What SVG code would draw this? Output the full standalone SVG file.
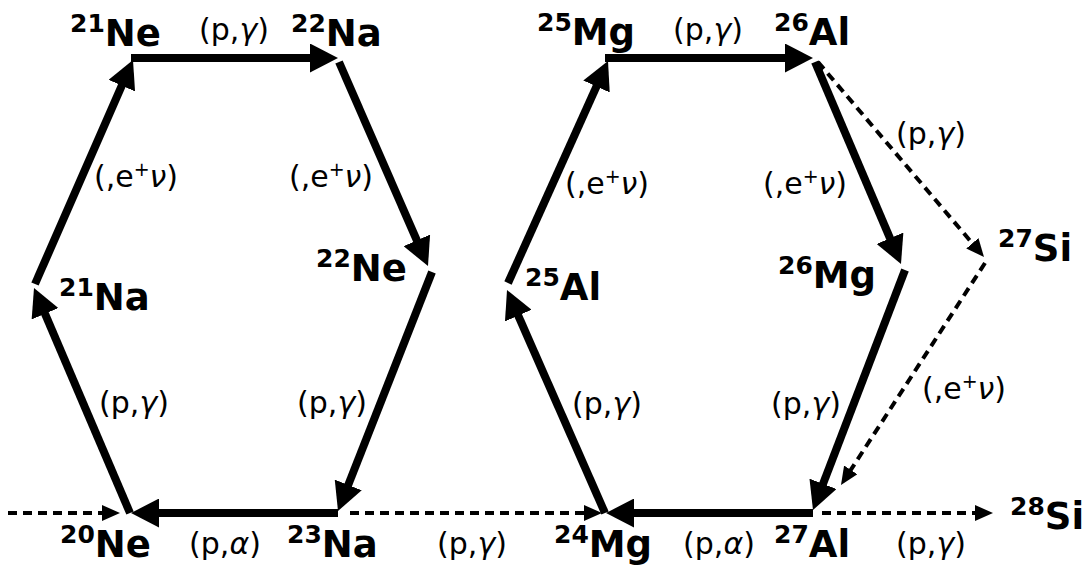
<svg xmlns="http://www.w3.org/2000/svg" width="1091" height="570" viewBox="0 0 1091 570">
<style>
.n{font-family:"DejaVu Sans",Verdana,sans-serif;font-weight:bold;font-size:37px;fill:#000}
.s{font-size:25px}
.r{font-family:"DejaVu Sans",Verdana,sans-serif;font-size:30px;fill:#000;text-anchor:middle}
.g{font-style:italic}
.p{font-size:19px}
.sol{stroke:#000;stroke-width:8;fill:none;marker-end:url(#ah)}
.das{stroke:#000;stroke-width:4;fill:none;stroke-dasharray:9 6;marker-end:url(#dh)}
</style>
<defs>
<marker id="ah" markerUnits="userSpaceOnUse" markerWidth="28" markerHeight="29" viewBox="0 0 28 29" refX="8" refY="14.5" orient="auto"><path d="M0,0 L28,14.5 L0,29 z" fill="#000"/></marker>
<marker id="dh" markerUnits="userSpaceOnUse" markerWidth="18" markerHeight="16" viewBox="0 0 18 16" refX="6" refY="8" orient="auto"><path d="M0,0 L18,8 L0,16 z" fill="#000"/></marker>
</defs>
<rect width="1091" height="570" fill="#fff"/>
<g id="connectors">
<path class="sol" d="M35,284 L124.98,78.32"/>
<path class="sol" d="M131,58 L318,58"/>
<path class="sol" d="M339,62 L420,247.67"/>
<path class="sol" d="M432,272 L345.32,492.39"/>
<path class="sol" d="M338,513 L151,513"/>
<path class="sol" d="M130,513 L41.85,306.4"/>
<path class="sol" d="M508,283 L599.79,79.23"/>
<path class="sol" d="M605,58 L793,58"/>
<path class="sol" d="M815,62 L893.16,245.59"/>
<path class="sol" d="M905,270 L820.16,491.32"/>
<path class="sol" d="M813,513 L626,513"/>
<path class="sol" d="M605,513 L515.05,308.31"/>
<path class="das" d="M8,513 L108,513"/>
<path class="das" d="M350,513 L590,513"/>
<path class="das" d="M822,513 L981,513"/>
<path class="das" d="M818,62 L976.22,247.86"/>
<path class="das" d="M985,263 L847.53,474.93"/>
<text class="r" x="234" y="40">(p,<tspan class="g">γ</tspan>)</text>
<text class="r" x="708" y="40">(p,<tspan class="g">γ</tspan>)</text>
<text class="r" x="136" y="187">(,e<tspan class="p" dy="-11">+</tspan><tspan class="g" dy="11">ν</tspan>)</text>
<text class="r" x="331" y="187">(,e<tspan class="p" dy="-11">+</tspan><tspan class="g" dy="11">ν</tspan>)</text>
<text class="r" x="607" y="194">(,e<tspan class="p" dy="-11">+</tspan><tspan class="g" dy="11">ν</tspan>)</text>
<text class="r" x="805" y="194">(,e<tspan class="p" dy="-11">+</tspan><tspan class="g" dy="11">ν</tspan>)</text>
<text class="r" x="931" y="144">(p,<tspan class="g">γ</tspan>)</text>
<text class="r" x="964" y="399">(,e<tspan class="p" dy="-11">+</tspan><tspan class="g" dy="11">ν</tspan>)</text>
<text class="r" x="134" y="413">(p,<tspan class="g">γ</tspan>)</text>
<text class="r" x="332" y="413">(p,<tspan class="g">γ</tspan>)</text>
<text class="r" x="607" y="414">(p,<tspan class="g">γ</tspan>)</text>
<text class="r" x="806" y="414">(p,<tspan class="g">γ</tspan>)</text>
<text class="r" x="225" y="554">(p,<tspan class="g">α</tspan>)</text>
<text class="r" x="472" y="554">(p,<tspan class="g">γ</tspan>)</text>
<text class="r" x="719" y="554">(p,<tspan class="g">α</tspan>)</text>
<text class="r" x="931" y="554">(p,<tspan class="g">γ</tspan>)</text>
</g>
<g id="ne21"><text class="n" x="70" y="46"><tspan class="s" dy="-14">21</tspan><tspan dy="14">Ne</tspan></text></g>
<g id="na22"><text class="n" x="291" y="46"><tspan class="s" dy="-14">22</tspan><tspan dy="14">Na</tspan></text></g>
<g id="ne22"><text class="n" x="316" y="281"><tspan class="s" dy="-14">22</tspan><tspan dy="14">Ne</tspan></text></g>
<g id="na21"><text class="n" x="59" y="310"><tspan class="s" dy="-14">21</tspan><tspan dy="14">Na</tspan></text></g>
<g id="ne20"><text class="n" x="60" y="557"><tspan class="s" dy="-14">20</tspan><tspan dy="14">Ne</tspan></text></g>
<g id="na23"><text class="n" x="287" y="557"><tspan class="s" dy="-14">23</tspan><tspan dy="14">Na</tspan></text></g>
<g id="mg25"><text class="n" x="537" y="45"><tspan class="s" dy="-14">25</tspan><tspan dy="14">Mg</tspan></text></g>
<g id="al26"><text class="n" x="774" y="45"><tspan class="s" dy="-14">26</tspan><tspan dy="14">Al</tspan></text></g>
<g id="al25"><text class="n" x="525" y="300"><tspan class="s" dy="-14">25</tspan><tspan dy="14">Al</tspan></text></g>
<g id="mg26"><text class="n" x="778" y="288"><tspan class="s" dy="-14">26</tspan><tspan dy="14">Mg</tspan></text></g>
<g id="si27"><text class="n" x="998" y="261"><tspan class="s" dy="-14">27</tspan><tspan dy="14">Si</tspan></text></g>
<g id="mg24"><text class="n" x="554" y="557"><tspan class="s" dy="-14">24</tspan><tspan dy="14">Mg</tspan></text></g>
<g id="al27"><text class="n" x="774" y="557"><tspan class="s" dy="-14">27</tspan><tspan dy="14">Al</tspan></text></g>
<g id="si28"><text class="n" x="1010" y="529"><tspan class="s" dy="-14">28</tspan><tspan dy="14">Si</tspan></text></g>
</svg>
